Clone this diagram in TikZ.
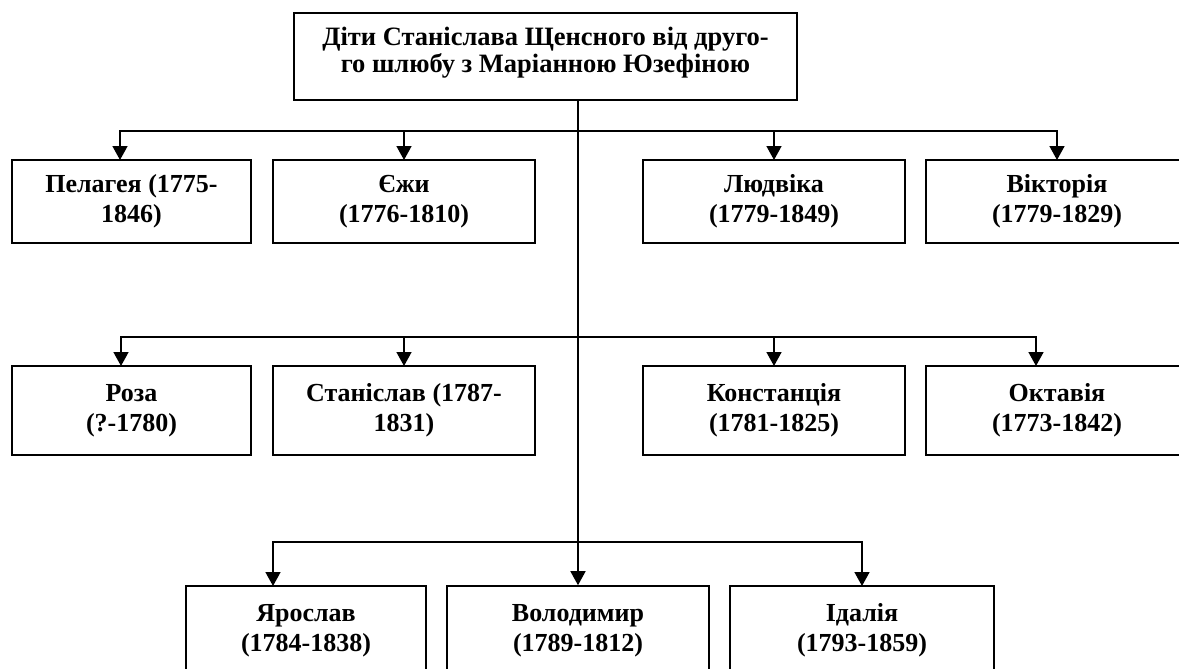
\documentclass[tikz,border=0pt]{standalone}
\usepackage{fontspec}
\setmainfont{Liberation Serif}
\usetikzlibrary{arrows.meta}
\begin{document}
\begin{tikzpicture}[x=1pt,y=-1pt,
  box/.style={draw, line width=1.6pt, inner sep=0pt, align=center,
    font=\bfseries\fontsize{26}{30}\selectfont},
  emptybox/.style={draw, line width=1.6pt, inner sep=0pt},
  toptext/.style={inner sep=0pt, align=center,
    font=\bfseries\fontsize{26.5}{27}\selectfont},
  ln/.style={line width=1.6pt},
  arr/.style={line width=1.6pt, -{Triangle[width=15pt,length=14pt]}}]
\useasboundingbox (0,0) rectangle (1179,669);
\clip (0,0) rectangle (1179,669);

% top box
\node[emptybox, minimum width=503pt, minimum height=87pt] (top) at (545.5,56.5) {};
\node[toptext] (toplbl) at ([yshift=4pt]top.center)
  {Діти Станіслава Щенсного від друго-\\го шлюбу з Маріанною Юзефіною};
\coordinate (trunk) at (578,100);

% row 1
\node[box, minimum width=239pt, minimum height=83pt] (pel) at (131.5,201.5) {Пелагея (1775-\\1846)};
\node[box, minimum width=262pt, minimum height=83pt] (jez) at (404,201.5) {Єжи\\(1776-1810)};
\node[box, minimum width=262pt, minimum height=83pt] (lud) at (774,201.5) {Людвіка\\(1779-1849)};
\node[box, minimum width=262pt, minimum height=83pt] (vik) at (1057,201.5) {Вікторія\\(1779-1829)};

% row 2
\node[box, minimum width=239pt, minimum height=89pt] (roz) at (131.5,410.5) {Роза\\(?-1780)};
\node[box, minimum width=262pt, minimum height=89pt] (sta) at (404,410.5) {Станіслав (1787-\\1831)};
\node[box, minimum width=262pt, minimum height=89pt] (kon) at (774,410.5) {Констанція\\(1781-1825)};
\node[box, minimum width=262pt, minimum height=89pt] (okt) at (1057,410.5) {Октавія\\(1773-1842)};

% row 3
\node[box, minimum width=240pt, minimum height=89pt] (yar) at (306,630.5) {Ярослав\\(1784-1838)};
\node[box, minimum width=262pt, minimum height=89pt] (vol) at (578,630.5) {Володимир\\(1789-1812)};
\node[box, minimum width=264pt, minimum height=89pt] (ida) at (862,630.5) {Ідалія\\(1793-1859)};

% arrow entry points
\coordinate (pelin) at (120,160);
\coordinate (jezin) at (404,160);
\coordinate (ludin) at (774,160);
\coordinate (vikin) at (1057,160);
\coordinate (rozin) at (121,366);
\coordinate (stain) at (404,366);
\coordinate (konin) at (774,366);
\coordinate (oktin) at (1036,366);
\coordinate (yarin) at (273,586);
\coordinate (idain) at (862,586);
\coordinate (r1) at (0,131);
\coordinate (r2) at (0,337);
\coordinate (r3) at (0,542);

% trunk
\draw[arr] (trunk) -- (vol.north);

% row 1 connectors
\draw[arr] (r1 -| trunk) -- (r1 -| pelin) -- (pelin);
\draw[arr] (r1 -| trunk) -- (r1 -| vikin) -- (vikin);
\draw[arr] (r1 -| jezin) -- (jezin);
\draw[arr] (r1 -| ludin) -- (ludin);

% row 2 connectors
\draw[arr] (r2 -| trunk) -- (r2 -| rozin) -- (rozin);
\draw[arr] (r2 -| trunk) -- (r2 -| oktin) -- (oktin);
\draw[arr] (r2 -| stain) -- (stain);
\draw[arr] (r2 -| konin) -- (konin);

% row 3 connectors
\draw[arr] (r3 -| trunk) -- (r3 -| yarin) -- (yarin);
\draw[arr] (r3 -| trunk) -- (r3 -| idain) -- (idain);
\end{tikzpicture}
\end{document}
